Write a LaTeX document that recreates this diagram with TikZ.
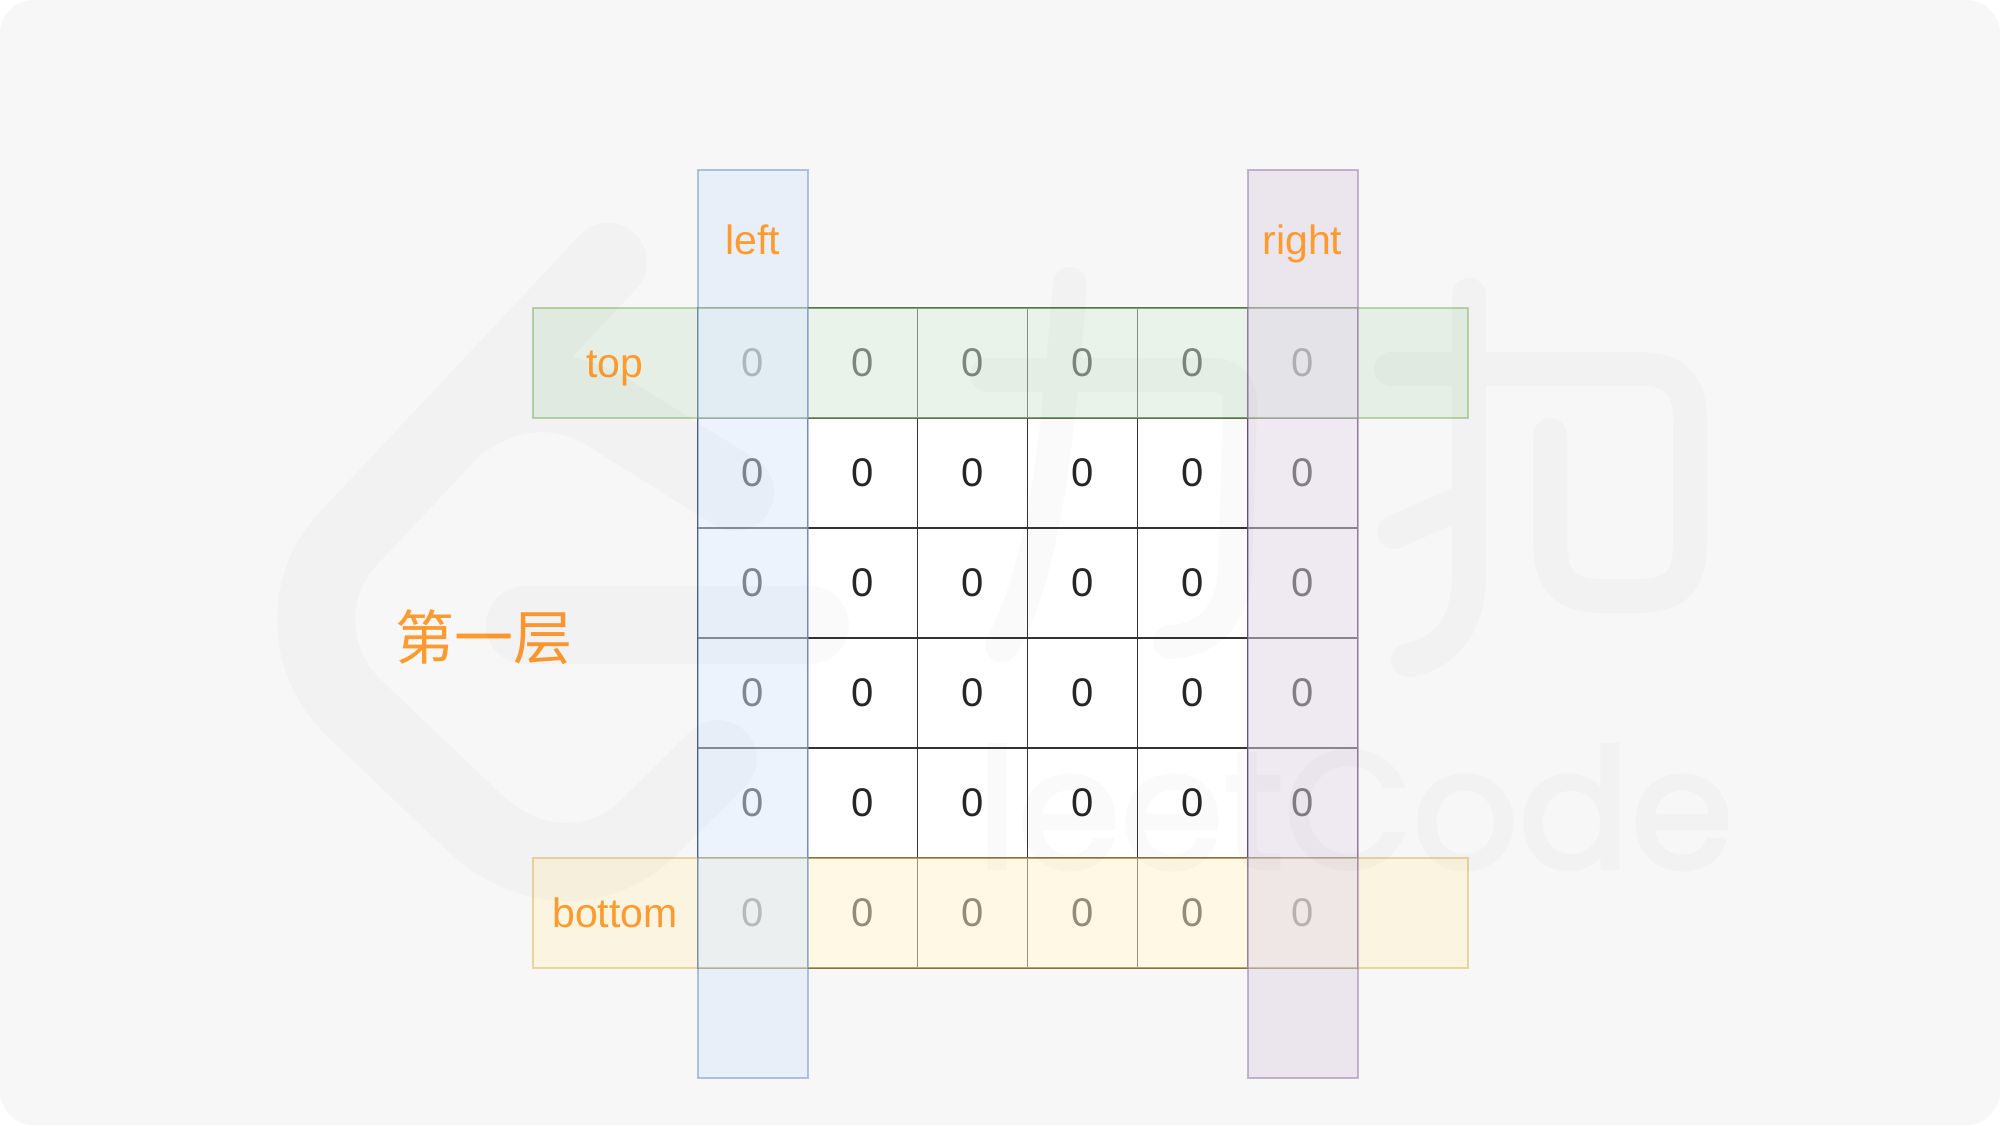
\documentclass[tikz,border=0pt]{standalone}
\usepackage{fontspec}
\setmainfont{Liberation Sans}
\newfontfamily\cjk{Noto Sans CJK SC}
\newfontfamily\wmfont[BoldFont=Poppins,BoldFeatures={FakeBold=2.5}]{Poppins}
\definecolor{paper}{HTML}{F7F7F7}
\definecolor{inktext}{HTML}{262626}
\definecolor{gridline}{HTML}{333333}
\definecolor{tagorange}{HTML}{FF9A2E}
\definecolor{greenfill}{HTML}{D5E8D4}
\definecolor{greenline}{HTML}{82B366}
\definecolor{yellowfill}{HTML}{FFF2CC}
\definecolor{yellowline}{HTML}{D6B656}
\definecolor{bluefill}{HTML}{DAE8FC}
\definecolor{blueline}{HTML}{6C8EBF}
\definecolor{purplefill}{HTML}{E1D5E7}
\definecolor{purpleline}{HTML}{9673A6}
\tikzset{
  cellbox/.style={draw=gridline,fill=white,line width=.8pt,inner sep=0pt,minimum size=55pt,text=inktext,font=\fontsize{20}{24}\selectfont},
  bandbox/.style 2 args={fill=#1,draw=#2,line width=1pt,inner sep=0pt,opacity=.5},
  tagtext/.style={anchor=base,text=tagorange,font=\fontsize{20.5}{24}\selectfont},
  watermark/.style={black,opacity=.02,line cap=round,line join=round}
}
\begin{document}
\begin{tikzpicture}[x=.5pt,y=-.5pt]
        \useasboundingbox (0,0) rectangle (2000,1125);
        \fill[white] (0,0) rectangle (2000,1125);
        \fill[paper,rounded corners=17pt] (0,0) rectangle (2000,1125);
        \def\x{110}
        \def\y{110}
        \begin{scope}[shift={(752.5,363)}]
        \node[cellbox] (A0_0) at (0*\x, 0*\y) {0};
        \node[cellbox] (A0_1) at (1*\x, 0*\y) {0};
        \node[cellbox] (A0_2) at (2*\x, 0*\y) {0};
        \node[cellbox] (A0_3) at (3*\x, 0*\y) {0};
        \node[cellbox] (A0_4) at (4*\x, 0*\y) {0};
        \node[cellbox] (A0_5) at (5*\x, 0*\y) {0};
        \node[cellbox] (A1_0) at (0*\x, 1*\y) {0};
        \node[cellbox] (A1_1) at (1*\x, 1*\y) {0};
        \node[cellbox] (A1_2) at (2*\x, 1*\y) {0};
        \node[cellbox] (A1_3) at (3*\x, 1*\y) {0};
        \node[cellbox] (A1_4) at (4*\x, 1*\y) {0};
        \node[cellbox] (A1_5) at (5*\x, 1*\y) {0};
        \node[cellbox] (A2_0) at (0*\x, 2*\y) {0};
        \node[cellbox] (A2_1) at (1*\x, 2*\y) {0};
        \node[cellbox] (A2_2) at (2*\x, 2*\y) {0};
        \node[cellbox] (A2_3) at (3*\x, 2*\y) {0};
        \node[cellbox] (A2_4) at (4*\x, 2*\y) {0};
        \node[cellbox] (A2_5) at (5*\x, 2*\y) {0};
        \node[cellbox] (A3_0) at (0*\x, 3*\y) {0};
        \node[cellbox] (A3_1) at (1*\x, 3*\y) {0};
        \node[cellbox] (A3_2) at (2*\x, 3*\y) {0};
        \node[cellbox] (A3_3) at (3*\x, 3*\y) {0};
        \node[cellbox] (A3_4) at (4*\x, 3*\y) {0};
        \node[cellbox] (A3_5) at (5*\x, 3*\y) {0};
        \node[cellbox] (A4_0) at (0*\x, 4*\y) {0};
        \node[cellbox] (A4_1) at (1*\x, 4*\y) {0};
        \node[cellbox] (A4_2) at (2*\x, 4*\y) {0};
        \node[cellbox] (A4_3) at (3*\x, 4*\y) {0};
        \node[cellbox] (A4_4) at (4*\x, 4*\y) {0};
        \node[cellbox] (A4_5) at (5*\x, 4*\y) {0};
        \node[cellbox] (A5_0) at (0*\x, 5*\y) {0};
        \node[cellbox] (A5_1) at (1*\x, 5*\y) {0};
        \node[cellbox] (A5_2) at (2*\x, 5*\y) {0};
        \node[cellbox] (A5_3) at (3*\x, 5*\y) {0};
        \node[cellbox] (A5_4) at (4*\x, 5*\y) {0};
        \node[cellbox] (A5_5) at (5*\x, 5*\y) {0};
        \end{scope}
        \node[bandbox={greenfill}{greenline},minimum width=467.5pt,minimum height=55pt] (bandTop) at (1000,363) {};
        \node[bandbox={yellowfill}{yellowline},minimum width=467.5pt,minimum height=55pt] (bandBottom) at (1000,913) {};
        \node[bandbox={bluefill}{blueline},minimum width=55pt,minimum height=454pt] (bandLeft) at (752.5,624) {};
        \node[bandbox={purplefill}{purpleline},minimum width=55pt,minimum height=454pt] (bandRight) at (1302.5,624) {};
        \node[tagtext] (tagLeft) at (752.5,254) {left};
        \node[tagtext] (tagRight) at (1302.5,254) {right};
        \node[tagtext] (tagTop) at (615,377) {top};
        \node[tagtext] (tagBottom) at (615,927) {bottom};
        \node[text=tagorange,font=\cjk\fontsize{29.5}{32}\selectfont] (layerName) at (484,637) {第一层};
        % watermark
        \draw[watermark,line width=39pt]
          (608,262) -- (347,540) .. controls (305,585) and (305,660) .. (353,707) -- (478,826) .. controls (530,872) and (600,875) .. (648,828) -- (718,759)
          (735,492) -- (620,420) .. controls (570,385) and (520,385) .. (470,415)
          (525,625) -- (810,625);
        \draw[watermark,line width=17pt]
          (1070,284) .. controls (1060,400) and (1050,560) .. (1002,645)
          (987,375) -- (1210,375) .. controls (1232,375) and (1240,385) .. (1240,405) -- (1235,570) .. controls (1232,615) and (1210,640) .. (1170,642)
          (1469,295) -- (1469,575) .. controls (1469,630) and (1440,655) .. (1408,660)
          (1394,532) -- (1469,499)
          (1391,369) -- (1640,369) .. controls (1675,369) and (1690,385) .. (1690,420) -- (1690,545) .. controls (1690,580) and (1675,596) .. (1640,596) -- (1600,596) .. controls (1565,596) and (1550,580) .. (1550,540) -- (1550,435);
        \begin{scope}[transparency group,opacity=.02]
        \node[text=black,font=\wmfont\bfseries\fontsize{83}{90}\selectfont,anchor=base] (wmName) at (1355,868) {leetCode};
        \end{scope}
\end{tikzpicture}
\end{document}
